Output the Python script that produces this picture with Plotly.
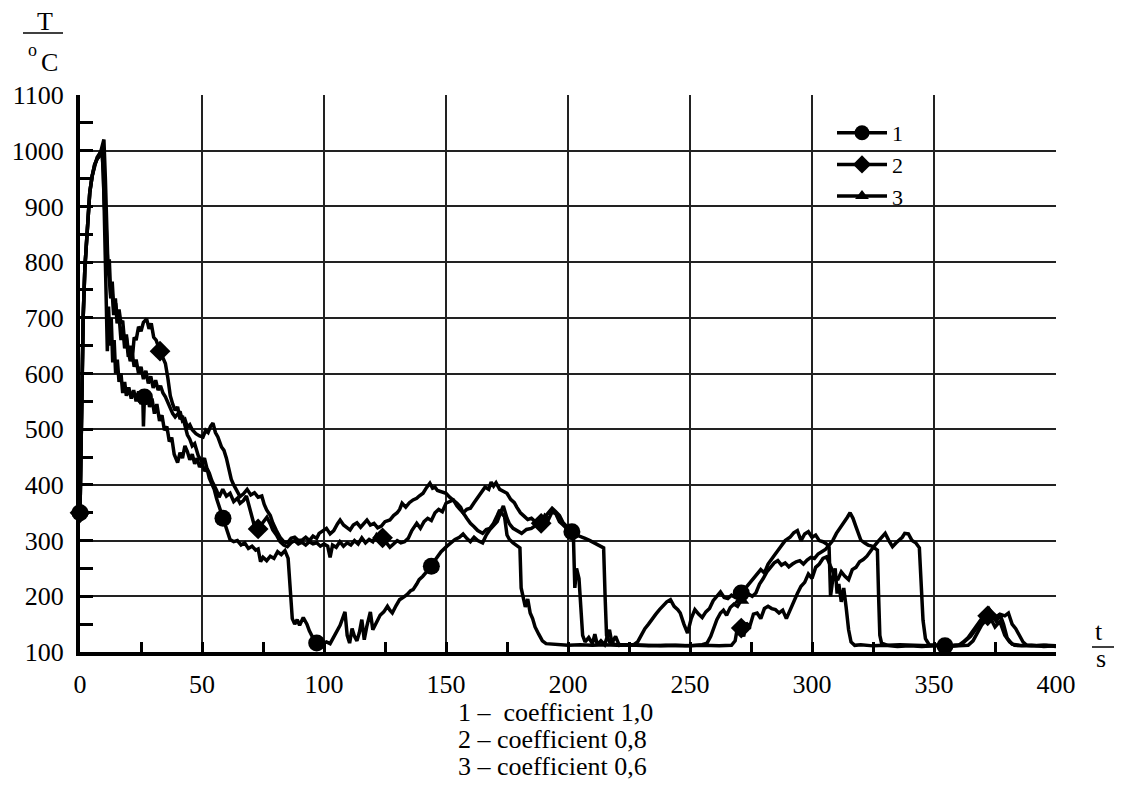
import plotly.graph_objects as go

# ---------------- data ----------------
curve1 = [(0,350),(0.7,560),(1.3,700),(2,790),(3,870),(4,925),(5,955),(6,975),(7,988),(8,995),(9,1000),
(9.6,960),(10.2,820),(10.7,700),(11.2,640),(11.7,720),(12.3,650),(12.8,700),(13.4,620),(14,660),(14.6,600),(15.3,625),(16,585),(16.8,600),(17.5,565),(18.3,585),(19,560),(20,575),(21,555),(22,570),(23,550),(24,568),(25,545),(25.7,565),(26,505),(26.4,558),(27.5,565),(28.5,540),(29.5,555),(30.5,528),(31.5,545),(32.6,515),(33.6,525),(34.6,498),(35.6,505),(36.6,478),(37.6,485),(38.6,455),(40,440),(41,458),(42,448),(43,470),(44,460),(45,445),(46,455),(47,438),(48,448),(49,432),(50,440),(51,425),(52,430),(53,412),(54,400),(55,392),(56,375),(57,362),(58.6,340),(60,322),(61.5,302),(63,298),(64.5,300),(66,292),(67.5,296),(69,286),(70.5,290),(72,283),(73,285),(74,262),(75,270),(76.5,264),(78,272),(79.5,268),(81,280),(82.5,275),(84,282),(85.3,268),(86,230),(87,160),(88,150),(89,158),(90,148),(91.5,162),(93,150),(94,138),(95.5,125),(97,116),(99,114),(101,118),(102.5,115),(104,128),(105.5,138),(106.6,148),(107.6,160),(108.6,172),(109.5,130),(110.5,116),(111.5,142),(112.5,128),(113.5,120),(114.5,135),(115.5,158),(116.5,122),(117.5,145),(119,172),(120,140),(121.5,152),(123,166),(124.5,172),(126,182),(127,175),(128,170),(129.5,183),(131,194),(132.5,198),(134,203),(135.5,210),(136.5,212),(138,222),(139,230),(140.5,236),(142,244),(144,254),(146,268),(148,280),(150.4,290),(152,296),(153.7,302),(155.5,306),(157,312),(158.5,304),(160,298),(161.5,306),(163,300),(165,296),(166.5,310),(168,320),(169.5,326),(171,334),(172.5,352),(173.5,362),(175,340),(176,330),(177.5,322),(179,318),(181,313),(183,320),(185,322),(187,328),(188.5,332),(190,340),(192,350),(193.5,358),(195,352),(196.5,345),(198,332),(199.6,324),(201.6,316),(203.5,310),(205,308),(207,304),(209,300),(211,295),(213,291),(214.6,287),(215.2,200),(215.8,130),(217,118),(219,114),(222,113),(225,112),(227,113),(228.5,118),(230,130),(231.5,142),(233,150),(234.5,160),(236,168),(237.5,176),(239,184),(240.5,190),(242,194),(243.5,182),(245,176),(246,170),(247.5,150),(249,134),(250.5,160),(252,176),(253.5,168),(255,162),(256.5,172),(258,178),(259.5,192),(261,200),(262.5,208),(264,198),(265.5,196),(267,202),(268.5,198),(270,204),(271,206),(273,216),(275,226),(277,238),(279,248),(280.5,242),(282,258),(284,270),(285.5,280),(287,288),(289,300),(291,306),(292.5,314),(294,318),(295.5,300),(297,312),(298.5,316),(300,306),(301.5,310),(303,300),(304.5,298),(306,294),(307,288),(307.6,200),(308.5,230),(309.5,250),(310.3,205),(311,222),(312,190),(313,215),(314,180),(315,140),(316,118),(317.5,112),(320,113),(325,111),(330,112),(335,110),(340,111),(345,110),(350,111),(354.5,111),(358,112),(361,113),(363,120),(365,128),(367,140),(369,150),(370.5,160),(372,170),(373.5,158),(375,145),(377,155),(379,130),(381,118),(383,112),(386,111),(390,112),(395,110),(400,111)]

curve2 = [(0,350),(0.7,560),(1.3,700),(2,790),(3,870),(4,925),(5,955),(6,975),(7,985),(8,990),(8.6,1000),(9.3,1015),(9.8,1020),(10.4,950),(10.9,860),(11.5,786),(12,805),(12.6,740),(13.2,765),(13.8,720),(14.5,735),(15.2,690),(16,705),(16.8,660),(17.5,684),(18.3,645),(19,665),(19.8,630),(20.6,650),(21.4,625),(22.2,665),(23,660),(24,684),(25,676),(26,692),(27.3,698),(28.3,680),(29.2,690),(30.2,665),(31.2,660),(32.8,640),(34,628),(35,618),(36,592),(37,560),(38,545),(39,534),(40,540),(41,518),(42,524),(43,508),(44,490),(45,482),(46,470),(47,474),(48.5,452),(50,442),(51,448),(52,430),(53,421),(54,408),(55,400),(56,390),(57,378),(58.5,392),(60,380),(61.5,385),(63,370),(64.5,376),(65.6,367),(67,372),(68.2,380),(69.5,360),(70.5,340),(71.5,326),(73,321),(74.5,330),(75.5,338),(76.6,342),(78,330),(79,319),(80.5,310),(82,298),(83.5,292),(85,289),(86.5,296),(88,300),(89.5,294),(91,297),(92.5,292),(94,298),(95.5,294),(97,296),(98.5,290),(100,294),(101.5,290),(102.5,270),(103.5,292),(105,288),(106.5,298),(108,290),(109.5,296),(111,292),(112.5,300),(114,294),(115.5,305),(117,296),(118.5,302),(120,298),(121.5,310),(123,300),(124,305),(125.5,296),(127,288),(128.5,294),(130,300),(131.5,296),(133,298),(134.5,304),(136,318),(138,331),(139.5,322),(141,334),(142.5,340),(144,336),(145.5,350),(147,356),(148.5,352),(150,367),(151.5,370),(153,373),(154.5,362),(156,356),(157,350),(158.5,356),(160,358),(161.5,368),(163,378),(164.5,388),(166,396),(167.5,392),(168.5,405),(169.5,398),(170.5,404),(172,392),(173.5,388),(175,385),(176.5,374),(178,368),(179,360),(180.5,350),(182,344),(183.5,338),(185,340),(186.5,334),(189,331),(190.5,345),(192,338),(193.5,352),(195,348),(196.5,334),(198,328),(199.5,322),(201,315),(202.2,310),(202.8,215),(203.5,250),(204.5,232),(205.3,165),(206,130),(207,118),(208.5,126),(210,115),(211,132),(212,113),(213.5,120),(215,113),(217,140),(218,116),(219.5,128),(221,112),(224,113),(228,112),(233,111),(240,112),(248,111),(255,112),(262,111),(267,112),(268.5,120),(269.5,145),(271,143),(272,128),(273,152),(274.5,146),(276,168),(277.5,170),(279,160),(280.5,178),(282,182),(283.5,178),(285,176),(286.5,170),(288,175),(289.5,160),(291,176),(292.5,192),(294,205),(295.5,218),(297,225),(298.5,240),(300,232),(301.5,252),(303,258),(304.5,268),(306,271),(307.5,255),(309,240),(310.5,229),(312,244),(313.5,236),(315,230),(316.5,248),(318,252),(319.5,262),(321,266),(322.5,272),(324,282),(325.5,290),(327,298),(328.5,306),(330,313),(331.5,300),(333,289),(334.5,296),(336,303),(337,306),(338,313),(339.5,312),(341,300),(342.5,296),(344,287),(344.8,200),(345.5,157),(346.5,124),(348,113),(352,112),(356,110),(360,111),(364,112),(366,120),(368,135),(369.5,148),(371,156),(372,165),(373,174),(374,165),(375.5,155),(377,168),(378.5,150),(380,125),(382,114),(385,112),(390,111),(395,112),(400,110)]

curve3 = [(0,350),(0.7,560),(1.3,700),(2,790),(3,870),(4,925),(5,955),(6,975),(7,985),(8,992),(8.6,1000),(9.2,990),(10,900),(10.8,857),(11.4,790),(12,770),(12.6,735),(13.2,745),(13.8,705),(14.6,726),(15.3,700),(16,715),(16.8,690),(17.5,695),(18.2,660),(19,670),(19.8,640),(20.6,622),(21.4,636),(22.2,612),(23,625),(24,600),(25,612),(26,590),(27,605),(28,582),(29,595),(30,574),(31,588),(32,570),(33,578),(34,565),(35,558),(36,548),(37,536),(38,528),(39,522),(40,528),(41,532),(42,515),(43,518),(44,504),(45,508),(46,499),(47.5,492),(49,488),(50.4,486),(51.5,498),(52.5,494),(53.5,505),(54.5,511),(55.5,494),(56.5,486),(58,468),(59,462),(60,448),(61,430),(62,410),(63,400),(64,392),(65.6,379),(67,384),(68.5,392),(70,382),(71.5,386),(73,378),(74.5,380),(75.5,365),(76.5,355),(78,345),(79,332),(80.5,318),(82,306),(83.5,298),(85,296),(86.5,304),(88,306),(89.5,300),(91,301),(92.5,306),(94,300),(95.5,308),(97,304),(98,313),(99.5,318),(101,322),(102.5,312),(104,318),(105.5,330),(106.6,337),(108,328),(109.5,322),(110.7,319),(112,328),(113.5,332),(115,324),(116.5,332),(117.6,337),(119,328),(120.5,331),(122,323),(123.5,326),(125,334),(127,337),(128.5,345),(130,350),(131,356),(132,367),(133.5,360),(135,368),(136.5,373),(138,376),(139,380),(140.6,385),(142,395),(143.4,403),(144.5,394),(145.5,396),(146.5,390),(148,388),(150,385),(151.5,378),(153,373),(154.5,367),(156,360),(157,350),(158.5,340),(160,331),(161.5,325),(163,318),(165,313),(166.5,320),(168,322),(169.5,331),(171,345),(172,355),(173,348),(174,343),(175,310),(176,302),(177.5,296),(179,292),(180.3,287),(180.8,215),(181.5,200),(182.5,181),(183.5,195),(184.5,170),(185.5,160),(186.5,145),(188,132),(189.5,120),(191,115),(195,113),(200,112),(205,113),(210,112),(215,113),(220,112),(226,113),(232,112),(238,111),(244,112),(250,111),(255,113),(257,116),(258.5,128),(259.5,140),(261,158),(262.5,170),(263.7,175),(265,166),(266.5,180),(268,186),(269.5,182),(271,193),(272.5,196),(274,204),(275.5,200),(277,206),(278.5,222),(280,232),(281.5,244),(283,252),(284.5,260),(286,264),(287.5,256),(289,260),(290.5,253),(292,258),(293.5,262),(295,264),(296.5,258),(298,265),(299.5,270),(301,268),(302.5,276),(304,280),(305.5,284),(307,292),(308.5,300),(310,313),(311.5,322),(313,332),(314.5,342),(315.6,350),(316.8,340),(318,325),(319,312),(320,301),(321.5,296),(323,292),(324.5,290),(326,286),(326.8,283),(327.3,200),(327.8,130),(328.5,116),(331,112),(336,113),(342,112),(348,111),(352,112),(357,111),(360,112),(362,118),(364,126),(366,138),(368,150),(369.5,160),(371,170),(372.5,178),(374,168),(375.5,163),(377,168),(379,165),(380.5,170),(382,150),(383.5,142),(385,130),(386.5,118),(388,112),(392,111),(396,112),(400,111)]

# marker positions (t, T)
markers1_t = [0, 26.4, 58.6, 97, 144, 201.6, 271, 354.5]
markers1_T = [350, 558, 340, 116, 254, 316, 206, 111]
markers2_t = [0, 32.8, 73, 124, 189, 271, 372]
markers2_T = [350, 640, 321, 305, 331, 143, 165]
markers3_t = [0, 271]
markers3_T = [350, 193]

series_names = ["1", "2", "3"]
symbols = ["circle", "diamond", "triangle-up"]
marker_sizes = [17, 16, 14]
captions = ["1 \u2013\u00a0 coefficient 1,0", "2 \u2013 coefficient 0,8", "3 \u2013 coefficient 0,6"]
x_ticks = list(range(0, 401, 50))
y_ticks = list(range(100, 1101, 100))

FONT = "Liberation Serif"
curves = [curve1, curve2, curve3]
marks = [(markers1_t, markers1_T), (markers2_t, markers2_T), (markers3_t, markers3_T)]

fig = go.Figure()
for c in curves:
    t, T = zip(*c)
    fig.add_trace(go.Scatter(x=list(t), y=list(T), mode="lines",
                             line=dict(color="black", width=3.5), showlegend=False,
                             hoverinfo="skip"))
for i in [2, 1, 0]:
    mt, mT = marks[i]
    fig.add_trace(go.Scatter(x=mt, y=mT, mode="markers", showlegend=False,
                             marker=dict(symbol=symbols[i], size=marker_sizes[i], color="black"),
                             cliponaxis=False))
for i in range(3):
    fig.add_trace(go.Scatter(x=[None], y=[None], mode="lines+markers", name=series_names[i],
                             line=dict(color="black", width=3.5),
                             marker=dict(symbol=symbols[i], size=marker_sizes[i] - 2, color="black")))

# the page body adds an 8 px offset, so the figure margins are reduced by 8
W, H = 1122, 794
OFF = 8
PL, PR, PT, PB = 80, 1056, 95, 652          # plot area on screen
L, TOP = PL - OFF, PT - OFF
R, B = W - PR + OFF, H - PB + OFF
pw, ph = PR - PL, PB - PT

def px(x):
    return (x - PL) / pw

def py(y):
    return (PB - y) / ph

annotations = []
def ann(text, x, y, size=26, xanchor="center"):
    annotations.append(dict(text=text, x=px(x), y=py(y), xref="paper", yref="paper",
                            showarrow=False, xanchor=xanchor, yanchor="middle",
                            font=dict(family=FONT, size=size, color="black")))

ann("T", 45, 21)
ann("o", 32, 50, size=18)
ann("C", 49, 62)
ann("t", 1099, 631)
ann("s", 1101, 658)
for k, cap in enumerate(captions):
    ann(cap, 456, [712, 739, 766][k], xanchor="left")

shapes = [
    dict(type="line", xref="paper", yref="paper", x0=px(23), x1=px(63), y0=py(33), y1=py(33),
         line=dict(color="black", width=1.5)),
    dict(type="line", xref="paper", yref="paper", x0=px(1092), x1=px(1115), y0=py(647), y1=py(647),
         line=dict(color="black", width=1.5)),
]

fig.update_layout(
    width=W, height=H, margin=dict(l=L, r=R, t=TOP, b=B, autoexpand=False),
    paper_bgcolor="white", plot_bgcolor="white",
    font=dict(family=FONT, size=26, color="black"),
    annotations=annotations, shapes=shapes,
    legend=dict(x=px(832), y=py(112), xanchor="left", yanchor="top",
                bgcolor="rgba(0,0,0,0)", font=dict(family=FONT, size=22),
                itemwidth=50, tracegroupgap=0),
    xaxis=dict(range=[0, 400], tickmode="array", tickvals=x_ticks, automargin=False,
               showgrid=True, gridcolor="#222", gridwidth=1.5,
               showline=True, linecolor="black", linewidth=4,
               ticks="inside", ticklen=10, tickwidth=3, tickcolor="black",
               minor=dict(dtick=25, tick0=0, ticks="inside", ticklen=10, tickwidth=3,
                          tickcolor="black", showgrid=False),
               ticklabelstandoff=6, zeroline=False,
               tickfont=dict(family=FONT, size=26)),
    yaxis=dict(range=[100, 1100], tickmode="array", tickvals=y_ticks, automargin=False,
               showgrid=True, gridcolor="#222", gridwidth=1.5,
               showline=True, linecolor="black", linewidth=4,
               ticks="inside", ticklen=13, tickwidth=3, tickcolor="black",
               minor=dict(dtick=50, tick0=100, ticks="inside", ticklen=13, tickwidth=3,
                          tickcolor="black", showgrid=False),
               ticklabelstandoff=7, zeroline=False,
               tickfont=dict(family=FONT, size=26)),
)

fig.write_html("out.html")
